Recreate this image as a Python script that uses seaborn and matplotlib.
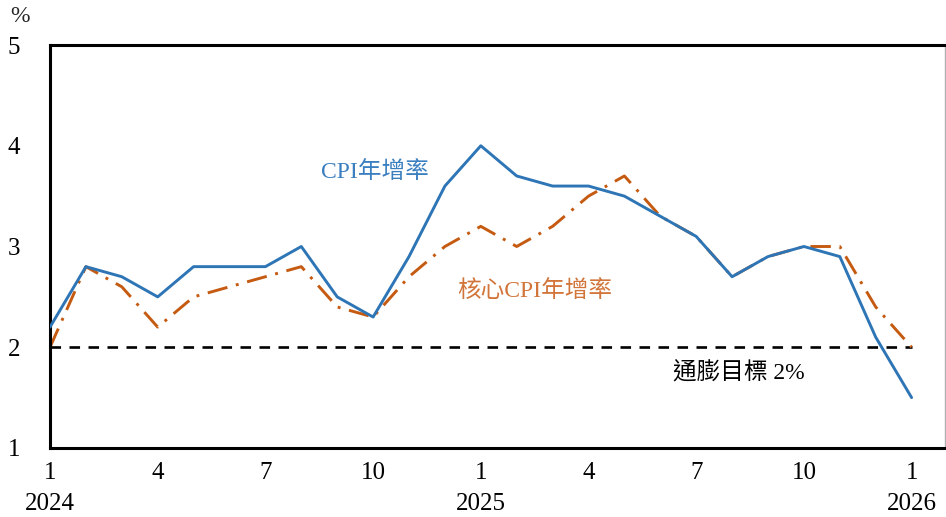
import matplotlib
matplotlib.use("Agg")
import matplotlib.pyplot as plt
import seaborn as sns
import pandas as pd
import numpy as np

months = [1,2,3,4,5,6,7,8,9,10,11,12,1,2,3,4,5,6,7,8,9,10,11,12,1]
years = [2024]*12 + [2025]*12 + [2026]
cpi = [2.2,2.8,2.7,2.5,2.8,2.8,2.8,3.0,2.5,2.3,2.9,3.6,
       4.0,3.7,3.6,3.6,3.5,3.3,3.1,2.7,2.9,3.0,2.9,2.1,1.5]
core = [2.0,2.8,2.6,2.2,2.5,2.6,2.7,2.8,2.4,2.3,2.7,3.0,
        3.2,3.0,3.2,3.5,3.7,3.3,3.1,2.7,2.9,3.0,3.0,2.4,2.0]
target = 2.0
yticks = [1,2,3,4,5]
label_cpi = "CPI年增率"
label_core = "核心CPI年增率"
label_target = "通膨目標 2%"

sns.set_theme(style="white")
fam = ['Liberation Serif', 'Noto Sans CJK TC']
plt.rcParams['font.family'] = fam

df = pd.DataFrame({"idx": np.arange(len(months)), "cpi": cpi, "core": core})
df["target"] = target

fig = plt.figure(figsize=(9.46, 5.17), dpi=100)
ax = fig.add_axes([50/946, 1-448/517, 895/946, (448-45)/517])

blue = "#2E75B6"
orange = "#C55A11"
sns.lineplot(data=df, x="idx", y="target", ax=ax, color="black", lw=1.9, zorder=1)
ax.lines[-1].set_linestyle((0, (4, 3.2)))
sns.lineplot(data=df, x="idx", y="core", ax=ax, color=orange, lw=2.1, zorder=2)
ax.lines[-1].set_linestyle((0, (7, 3, 1, 3)))
sns.lineplot(data=df, x="idx", y="cpi", ax=ax, color=blue, lw=2.1, zorder=3)

ax.set_xlim(0, 24.93)
ax.set_ylim(1, 5)
ax.set_xlabel("")
ax.set_ylabel("")

xt = list(range(0, len(months), 3))
ax.set_xticks(xt)
xl = []
for i in xt:
    if months[i] == 1:
        xl.append(f"{months[i]}\n{years[i]}")
    else:
        xl.append(f"{months[i]}")
ax.set_xticklabels(xl, fontsize=18, linespacing=1.55, va="top")
ax.set_yticks(yticks)
ax.set_yticklabels([str(v) for v in yticks], fontsize=18)

ax.tick_params(axis="x", direction="in", length=6, width=1.5, pad=10, colors="black")
ax.tick_params(axis="y", direction="in", length=6, width=1.5, pad=26, colors="black")
for lab in ax.get_yticklabels():
    lab.set_horizontalalignment("center")

for s in ["left", "top", "bottom"]:
    ax.spines[s].set_visible(True)
    ax.spines[s].set_color("black")
    ax.spines[s].set_linewidth(2.2)
ax.spines["right"].set_visible(True)
ax.spines["right"].set_color("#b0b0b0")
ax.spines["right"].set_linewidth(1.0)
ax.grid(False)

ax.text(9.05, 3.74, label_cpi, color="#3A7FC0", fontsize=17, ha="center", va="center", family=fam)
ax.text(13.5, 2.55, label_core, color="#D2753A", fontsize=17, ha="center", va="center", family=fam)
ax.text(19.2, 1.74, label_target, color="black", fontsize=17, ha="center", va="center", family=fam)
fig.text(20/946, 1-16/517, "%", fontsize=17, ha="center", va="center")

fig.savefig("out.png", dpi=100)
